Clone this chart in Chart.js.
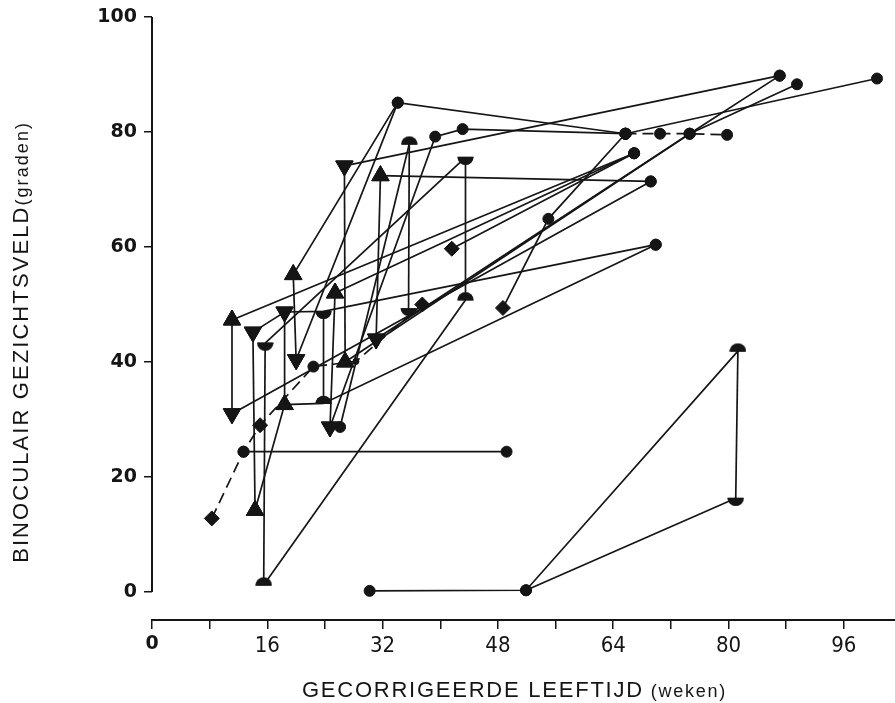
<!DOCTYPE html>
<html><head><meta charset="utf-8">
<script src="https://cdn.jsdelivr.net/npm/chart.js@4.4.1/dist/chart.umd.min.js"></script>
<style>html,body{margin:0;padding:0;background:#fff}</style>
</head><body>
<canvas id="c" width="895" height="703"></canvas>
<script>
// marker kinds
const CI='circle', SC='small', TU='triUp', TD='triDown', DM='diamond', DO='dome', BO='bowl';

// axis ticks and titles
const xTicks = [0,16,32,48,64,80,96];
const yTicks = [0,20,40,60,80,100];
const xTitle = ['GECORRIGEERDE LEEFTIJD', ' (weken)'];
const yTitle = ['BINOCULAIR GEZICHTSVELD', '(graden)'];

// trajectories: [corrected age (weeks), binocular field (degrees), marker]
const t01 = [[11.1,47.3,TU],[11.1,31.0,TD]];
const t02 = [[11.1,47.3,TU],[66.9,76.3,CI]];
const t03 = [[11.1,31.0,TD],[69.2,71.4,CI]];
const t04 = [[14.0,45.2,TD],[14.3,14.2,TU]];
const t05 = [[14.0,45.2,TD],[18.4,48.7,TD],[23.8,48.8,BO],[69.9,60.4,CI]];
const t06 = [[14.3,14.2,TU],[18.4,32.6,TU],[23.8,32.8,DO],[69.9,60.4,CI]];
const t07 = [[18.4,48.7,TD],[18.4,32.6,TU]];
const t08 = [[23.8,48.8,BO],[23.8,32.8,DO]];
const t09 = [[15.7,43.3,BO],[15.5,1.2,DO]];
const t10 = [[15.7,43.3,BO],[43.5,75.6,BO]];
const t11 = [[15.5,1.2,DO],[43.5,50.8,DO]];
const t12 = [[43.5,75.6,BO],[43.5,50.8,DO]];
const t13 = [[19.6,55.2,TU],[20.0,40.4,TD]];
const t14 = [[19.6,55.2,TU],[34.1,85.1,CI],[65.7,79.7,CI]];
const t15 = [[20.0,40.4,TD],[34.1,85.1,CI]];
const t16 = [[25.4,52.0,TU],[24.7,28.7,TD]];
const t17 = [[25.4,52.0,TU],[66.9,76.3,CI]];
const t18 = [[24.7,28.7,TD],[39.3,79.2,CI],[43.1,80.5,CI],[65.7,79.7,CI]];
const t19 = [[26.1,28.7,CI],[35.7,77.9,DO]];
const t20 = [[26.7,74.1,TD],[26.8,40.0,TU]];
const t21 = [[26.7,74.1,TD],[87.1,89.8,CI]];
const t22 = [[26.8,40.0,TU],[74.6,79.7,CI],[89.5,88.3,CI]];
const t23 = [[31.7,72.4,TU],[31.1,44.0,TD]];
const t24 = [[31.1,44.0,TD],[74.6,79.7,CI],[87.1,89.8,CI]];
const t25 = [[31.7,72.4,TU],[69.2,71.4,CI]];
const t26 = [[35.7,77.9,DO],[35.6,49.3,BO]];
const t27 = [[41.6,59.7,DM],[66.9,76.3,CI]];
const t28 = [[48.7,49.4,DM],[55.0,64.9,CI],[65.7,79.7,CI]];
const t29 = [[65.7,79.7,CI],[100.6,89.3,CI]];
const t30 = [[65.7,79.7,CI],[70.5,79.7,CI],[74.6,79.7,CI],[79.8,79.5,CI]];
const t31 = [[8.3,12.8,DM],[12.7,24.4,CI],[15.0,29.0,DM],[22.4,39.2,CI],[28.3,40.1,SC],[37.5,50.0,DM]];
const t32 = [[12.7,24.4,CI],[49.2,24.4,CI]];
const t33 = [[30.2,0.2,CI],[51.9,0.3,CI],[81.3,41.9,DO]];
const t34 = [[51.9,0.3,CI],[81.0,16.3,BO]];
const t35 = [[81.3,41.9,DO],[81.0,16.3,BO]];

const solidTrajs = [t01,t02,t03,t04,t05,t06,t07,t08,t09,t10,t11,t12,t13,t14,t15,t16,t17,t18,t19,t20,t21,t22,t23,t24,t25,t26,t27,t28,t29,t32,t33,t34,t35];
const dashedTrajs = [t30,t31];

const INK = '#151515';
const TITLE_FONT = "'Liberation Sans', Arial, sans-serif";

function halfDisc(up){
  const c = document.createElement('canvas');
  c.width = 17; c.height = 17;
  const g = c.getContext('2d');
  g.fillStyle = INK;
  g.beginPath();
  if (up) { g.arc(8.5,9,8,Math.PI,0); } else { g.arc(8.5,8,8,0,Math.PI); }
  g.closePath(); g.fill();
  return c;
}
const domeImg = halfDisc(true), bowlImg = halfDisc(false);

function styleOf(k){
  if (k===TU || k===TD) return 'triangle';
  if (k===DM) return 'rectRot';
  if (k===DO) return domeImg;
  if (k===BO) return bowlImg;
  return 'circle';
}
function radiusOf(k){
  if (k===TU || k===TD) return 10;
  if (k===DM) return 7.5;
  if (k===SC) return 3;
  if (k===DO || k===BO) return 8;
  return 5.5;
}

function makeDataset(traj, dashed){
  return {
    data: traj.map(p => ({x:p[0], y:p[1], k:p[2]})),
    showLine: true,
    borderColor: INK,
    borderWidth: 1.7,
    borderDash: dashed ? [11,6] : [],
    backgroundColor: INK,
    pointBackgroundColor: INK,
    pointBorderColor: INK,
    pointBorderWidth: 1,
    pointStyle: c => styleOf(c.raw.k),
    pointRadius: c => radiusOf(c.raw.k),
    pointRotation: c => c.raw.k===TD ? 180 : 0,
    tension: 0,
    clip: false
  };
}

const datasets = solidTrajs.map(t => makeDataset(t,false)).concat(dashedTrajs.map(t => makeDataset(t,true)));

// draws a two-part title (large caps + smaller parenthesis), fitted to a target length
function drawTitle(ctx, parts, cx, cy, rotate, targetLen){
  ctx.save();
  const sizes = [22, 18];
  const fonts = sizes.map(s => s + 'px ' + TITLE_FONT);
  const widths = parts.map((p,i) => { ctx.font = fonts[i]; return ctx.measureText(p).width; });
  const nChars = parts.join('').length;
  let total = widths[0] + widths[1];
  let spacing = 0;
  const canSpace = ('letterSpacing' in ctx);
  if (canSpace) { spacing = Math.max(0, (targetLen - total) / nChars); total += spacing * nChars; }
  ctx.translate(cx, cy);
  if (rotate) ctx.rotate(-Math.PI/2);
  ctx.fillStyle = INK;
  ctx.textBaseline = 'alphabetic';
  ctx.textAlign = 'left';
  let x = -total/2;
  parts.forEach((p,i) => {
    ctx.font = fonts[i];
    if (canSpace) ctx.letterSpacing = spacing.toFixed(2) + 'px';
    ctx.fillText(p, x, 8);
    x += widths[i] + spacing * p.length;
  });
  ctx.restore();
}

const axisExtras = {
  id: 'axisExtras',
  beforeDatasetsDraw(chart){
    const y = chart.scales.y, ctx = chart.ctx;
    const x0 = chart.chartArea.left;
    ctx.save();
    ctx.strokeStyle = INK; ctx.lineWidth = 2;
    ctx.beginPath();
    ctx.moveTo(x0, y.getPixelForValue(yTicks[0]));
    ctx.lineTo(x0, y.getPixelForValue(yTicks[yTicks.length-1]));
    ctx.stroke();
    ctx.restore();
  },
  afterDraw(chart){
    const ctx = chart.ctx, x = chart.scales.x, y = chart.scales.y;
    drawTitle(ctx, xTitle, x.getPixelForValue(50.3), x.bottom - 14, false, 425);
    drawTitle(ctx, yTitle, 20, y.getPixelForValue(43.5), true, 442);
  }
};

new Chart(document.getElementById('c'), {
  type: 'scatter',
  data: { datasets },
  plugins: [axisExtras],
  options: {
    responsive: false,
    animation: false,
    devicePixelRatio: 1,
    layout: { autoPadding: false, padding: { top: 17, right: 0, bottom: 0, left: 0 } },
    plugins: { legend: { display: false }, tooltip: { enabled: false } },
    scales: {
      x: {
        type: 'linear', min: 0, max: 103.1,
        border: { display: true, color: INK, width: 2 },
        grid: { drawOnChartArea: false, drawTicks: true, tickLength: 9, color: INK, lineWidth: 1.5 },
        ticks: {
          stepSize: 8, includeBounds: false, color: INK, padding: 4, maxRotation: 0, autoSkip: false,
          callback: v => xTicks.includes(v) ? String(v) : '',
          font: c => (c.tick && c.tick.value === 0)
            ? { family: 'DejaVu Sans', weight: 'bold', size: 19 }
            : { family: "'Liberation Sans Narrow', 'DejaVu Sans Condensed', 'Liberation Sans'", size: 22 }
        },
        title: { display: false },
        afterFit: s => { s.height = 83; s.paddingLeft = 0; s.paddingRight = 0; }
      },
      y: {
        type: 'linear', min: -4.87, max: 100,
        afterBuildTicks: s => { s.ticks = yTicks.map(v => ({ value: v })); },
        border: { display: false },
        grid: { drawOnChartArea: false, drawTicks: true, tickLength: 8, color: INK, lineWidth: 1.5 },
        ticks: { color: INK, padding: 7, font: { family: 'DejaVu Sans', weight: 'bold', size: 19 } },
        title: { display: false },
        afterFit: s => { s.width = 152; s.paddingTop = 0; s.paddingBottom = 0; }
      }
    }
  }
});
</script>
</body></html>
